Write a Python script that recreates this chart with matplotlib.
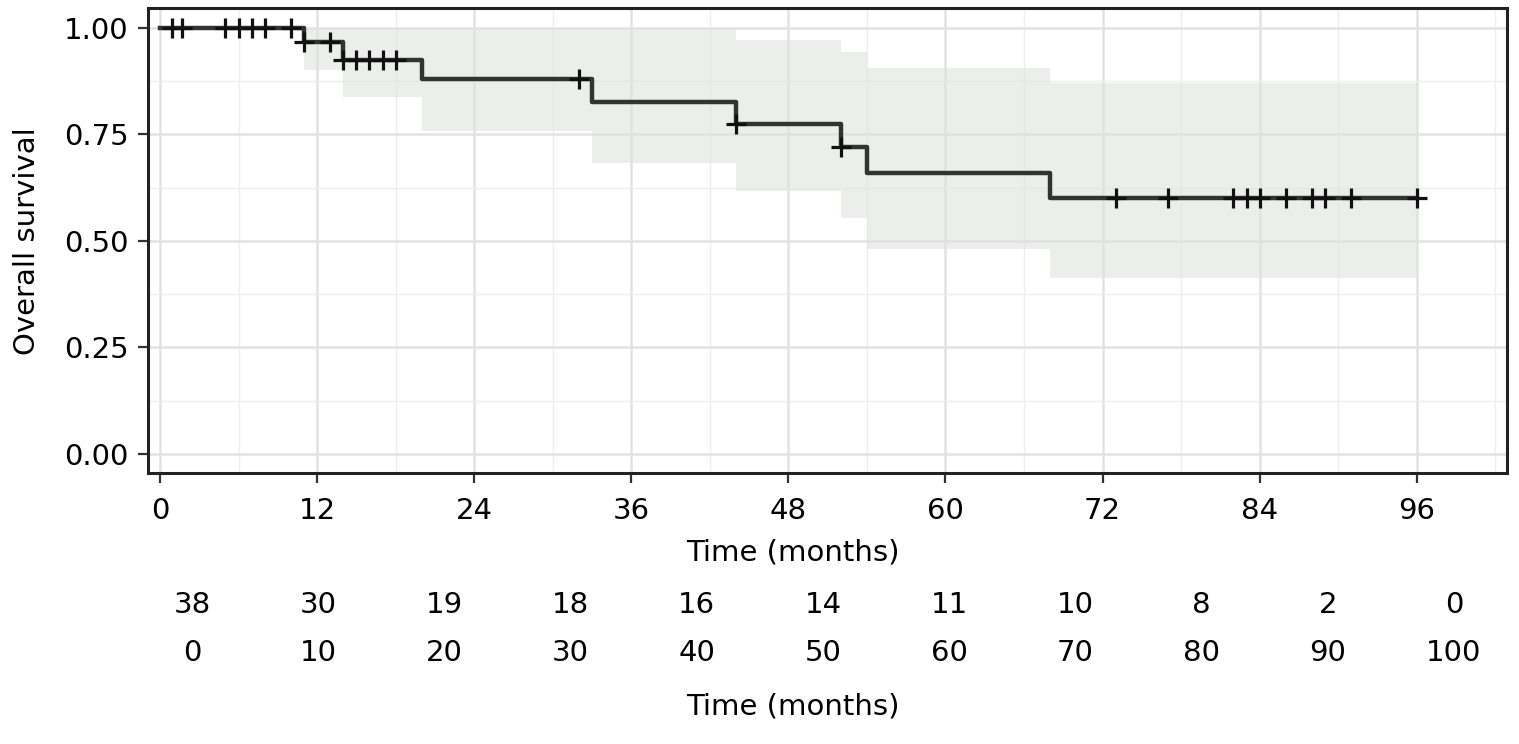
import matplotlib
matplotlib.use("Agg")
import matplotlib.pyplot as plt
from matplotlib.ticker import MultipleLocator
import matplotlib.transforms as mtransforms

# Kaplan-Meier step curve
step_times = [0, 11, 14, 20, 33, 44, 52, 54, 68, 96]
step_surv = [1.0, 0.966, 0.925, 0.880, 0.827, 0.775, 0.720, 0.660, 0.600, 0.600]

# confidence band at the same steps
ci_upper = [1.0, 1.0, 1.0, 1.0, 1.0, 0.973, 0.944, 0.905, 0.872, 0.872]
ci_lower = [1.0, 0.901, 0.839, 0.759, 0.683, 0.618, 0.553, 0.481, 0.414, 0.414]

# censored observations
censor_times = [0.9, 1.7, 5, 6, 7, 8, 10, 11, 13, 14, 15, 16, 17, 18, 32, 44, 52,
                73, 77, 82, 83, 84, 86, 88, 89, 91, 96]

# number at risk table
risk_times = [0, 10, 20, 30, 40, 50, 60, 70, 80, 90, 100]
risk_counts = [38, 30, 19, 18, 16, 14, 11, 10, 8, 2, 0]

x_ticks = [0, 12, 24, 36, 48, 60, 72, 84, 96]
y_ticks = [0.0, 0.25, 0.5, 0.75, 1.0]


def surv_at(t):
    s = step_surv[0]
    for tt, ss in zip(step_times, step_surv):
        if tt <= t:
            s = ss
    return s


W, H = 1519, 744
fs = 21
fig = plt.figure(figsize=(W / 100, H / 100), dpi=100)

ax = fig.add_axes([148 / W, 1 - 473 / H, (1507 - 148) / W, (473 - 8) / H])
ax.set_xlim(-0.92, 102.9)
ax.set_ylim(-0.045, 1.047)

ax.set_xticks(x_ticks)
ax.set_yticks(y_ticks)
ax.set_yticklabels([f"{v:.2f}" for v in y_ticks])
ax.xaxis.set_minor_locator(MultipleLocator(6))
ax.yaxis.set_minor_locator(MultipleLocator(0.125))
ax.grid(which="major", color="#e2e2e2", lw=1.8, zorder=0)
ax.grid(which="minor", color="#eeeeee", lw=1.0, zorder=0)
ax.set_axisbelow(True)
ax.tick_params(which="minor", length=0)
ax.tick_params(which="major", direction="out", length=7, width=1.6,
               color="#333333", labelsize=fs, labelcolor="black", pad=7)
ax.tick_params(axis="x", which="major", pad=10)

for sp in ax.spines.values():
    sp.set_color("#222222")
    sp.set_linewidth(2.2)

ax.fill_between(step_times, ci_lower, ci_upper, step="post",
                facecolor="#e0e3e0", alpha=0.6, lw=0, zorder=1)
ax.step(step_times, step_surv, where="post", color="#333333", lw=3.2, zorder=2)
ax.plot(censor_times, [surv_at(t) for t in censor_times], "+", color="#111111",
        ms=14, mew=2.3, zorder=3)

fig.text(27 / W, 1 - 241 / H, "Overall survival", rotation=90, fontsize=fs,
         ha="center", va="center")
fig.text(793 / W, 1 - 552 / H, "Time (months)", fontsize=fs, ha="center", va="center")

# risk table axis: 0 at x=192px, 100 at x=1454px
ax2 = fig.add_axes([129 / W, 0.01, (1517 - 129) / W, 0.05])
ax2.set_xlim(-5, 105)
ax2.axis("off")
trans = mtransforms.blended_transform_factory(ax2.transData, fig.transFigure)
for t, n in zip(risk_times, risk_counts):
    ax2.text(t, 1 - 605 / H, str(n), transform=trans, fontsize=fs,
             ha="center", va="center")
    ax2.text(t, 1 - 653 / H, str(t), transform=trans, fontsize=fs,
             ha="center", va="center")
fig.text(793 / W, 1 - 706 / H, "Time (months)", fontsize=fs, ha="center", va="center")

fig.savefig("out.png", dpi=100)
